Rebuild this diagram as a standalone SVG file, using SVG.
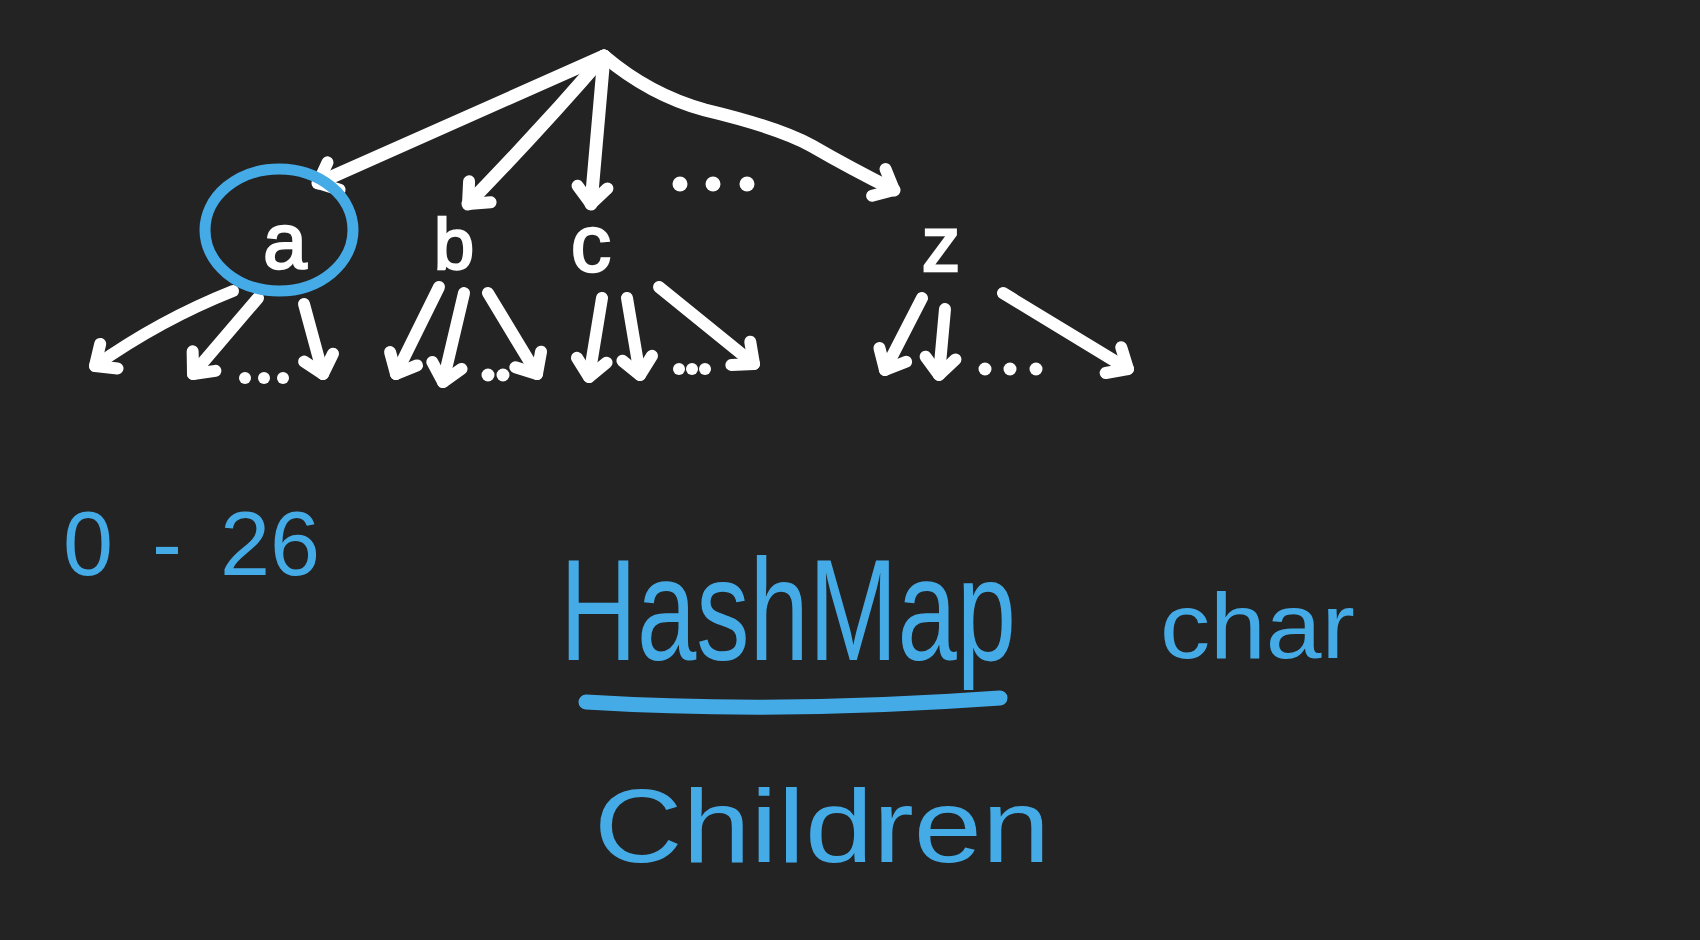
<svg xmlns="http://www.w3.org/2000/svg" width="1700" height="940" viewBox="0 0 1700 940">
  <defs>
    <style>
      .edge { fill: none; stroke: #ffffff; stroke-width: 12; stroke-linecap: round; stroke-linejoin: round; }
      .edge.top { stroke-width: 13; }
      .dot { fill: #ffffff; }
      .letter { font-family: "Liberation Sans", Arial, sans-serif; fill: #ffffff; stroke: #ffffff; stroke-width: 2.5; text-anchor: middle; }
      .note { font-family: "Liberation Sans", Arial, sans-serif; fill: #45abe7; }
      .blue { fill: none; stroke: #45abe7; stroke-linecap: round; stroke-linejoin: round; }
    </style>
    <marker id="head" viewBox="-30 -20 36 40" refX="0" refY="0" markerWidth="36" markerHeight="40" markerUnits="userSpaceOnUse" orient="auto" overflow="visible">
      <path d="M -17 -15 L 0 0 L -17 15" fill="none" stroke="#ffffff" stroke-width="12" stroke-linecap="round" stroke-linejoin="round"/>
    </marker>
  </defs>

  <rect x="0" y="0" width="1700" height="940" fill="#232323"/>

  <!-- edges from the root to the first level and from each letter to its children -->
  <g id="connectors">
    <path class="edge top" d="M 604 56 L 318 183" marker-end="url(#head)"/>
    <path class="edge top" d="M 604 56 Q 540 130 468 204" marker-end="url(#head)"/>
    <path class="edge top" d="M 604 56 L 591 204" marker-end="url(#head)"/>
    <path class="edge top" d="M 604 56 Q 650 95 705 110 Q 780 128 812 146 Q 850 168 894 190" marker-end="url(#head)"/>

    <path class="edge" d="M 233 291 Q 160 320 95 366" marker-end="url(#head)"/>
    <path class="edge" d="M 258 298 L 193 374" marker-end="url(#head)"/>
    <path class="edge" d="M 304 304 L 323 374" marker-end="url(#head)"/>

    <path class="edge" d="M 439 287 L 396 374" marker-end="url(#head)"/>
    <path class="edge" d="M 464 293 L 443 382" marker-end="url(#head)"/>
    <path class="edge" d="M 488 293 L 537 374" marker-end="url(#head)"/>

    <path class="edge" d="M 602 298 L 589 377" marker-end="url(#head)"/>
    <path class="edge" d="M 627 298 L 640 375" marker-end="url(#head)"/>
    <path class="edge" d="M 659 287 L 754 364" marker-end="url(#head)"/>

    <path class="edge" d="M 922 298 L 885 370" marker-end="url(#head)"/>
    <path class="edge" d="M 945 309 L 939 375" marker-end="url(#head)"/>
    <path class="edge" d="M 1003 293 L 1128 369" marker-end="url(#head)"/>
  </g>

  <!-- ellipses marking the omitted siblings -->
  <g id="ellipses">
    <circle class="dot" cx="680" cy="184" r="7.5"/>
    <circle class="dot" cx="713" cy="184" r="7.5"/>
    <circle class="dot" cx="747" cy="184" r="7.5"/>

    <circle class="dot" cx="245" cy="378" r="6"/>
    <circle class="dot" cx="264" cy="378" r="6"/>
    <circle class="dot" cx="283" cy="378" r="6"/>

    <circle class="dot" cx="488" cy="375" r="6.5"/>
    <circle class="dot" cx="503" cy="375" r="6.5"/>

    <circle class="dot" cx="679" cy="369" r="6"/>
    <circle class="dot" cx="692" cy="369" r="6"/>
    <circle class="dot" cx="705" cy="369" r="6"/>

    <circle class="dot" cx="985" cy="369" r="6.5"/>
    <circle class="dot" cx="1010" cy="369" r="6.5"/>
    <circle class="dot" cx="1036" cy="369" r="6.5"/>
  </g>

  <g id="node-a">
    <text class="letter" x="285" y="268" font-size="78">a</text>
    <ellipse class="blue" cx="279" cy="230" rx="74" ry="61" stroke-width="11"/>
  </g>
  <g id="node-b">
    <text class="letter" x="454" y="269" font-size="72">b</text>
  </g>
  <g id="node-c">
    <text class="letter" x="591" y="271" font-size="80">c</text>
  </g>
  <g id="node-z">
    <text class="letter" x="941" y="271" font-size="77">z</text>
  </g>

  <!-- notes about how to store the children -->
  <g id="note-range">
    <text class="note" y="575" font-size="90"><tspan x="63">0</tspan><tspan x="152">-</tspan><tspan x="220">26</tspan></text>
  </g>
  <g id="note-hashmap">
    <text class="note" transform="translate(560 660) scale(0.735 1)" x="0" y="0" font-size="145">HashMap</text>
    <path class="blue" d="M 586 702 Q 780 714 1000 698" stroke-width="15"/>
  </g>
  <g id="note-char">
    <text class="note" x="1160" y="658" font-size="92" textLength="195" lengthAdjust="spacingAndGlyphs">char</text>
  </g>
  <g id="note-children">
    <text class="note" x="594" y="862" font-size="104" textLength="456" lengthAdjust="spacingAndGlyphs">Children</text>
  </g>
</svg>
